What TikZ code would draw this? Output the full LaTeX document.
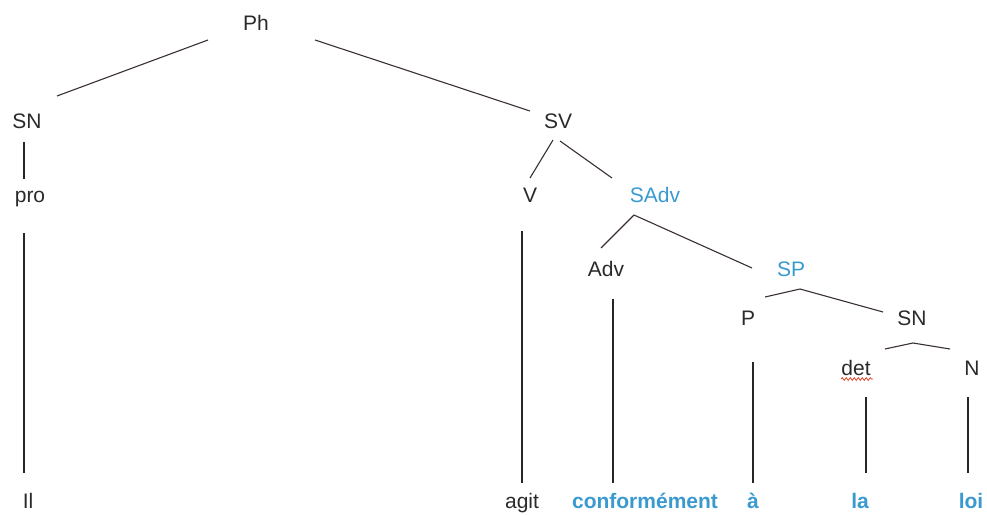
\documentclass[tikz,border=0pt]{standalone}
\usepackage{fontspec}
\setmainfont{Liberation Sans}
\usetikzlibrary{calc,decorations.pathmorphing}
\definecolor{txt}{HTML}{2A2A2A}
\definecolor{blu}{HTML}{3A9AD0}
\definecolor{ln}{HTML}{3A3030}
\begin{document}
\begin{tikzpicture}[x=1pt,y=-1pt,
  lab/.style={anchor=base,inner sep=0pt,text=txt,font=\fontsize{21}{25}\selectfont},
  blab/.style={lab,text=blu},
  word/.style={lab,text=blu,font=\fontsize{21}{25}\selectfont\bfseries},
  edge/.style={draw=ln,line width=1.1pt},
  vedge/.style={draw=black!85,line width=1.5pt}]
\useasboundingbox (0,0) rectangle (987,514);
% nodes
\node[lab]  (Ph)   at (256,30)  {Ph};
\node[lab]  (SN)   at (27,128)  {SN};
\node[lab]  (SV)   at (558,128) {SV};
\node[lab]  (pro)  at (30,202)  {pro};
\node[lab]  (V)    at (530,202) {V};
\node[blab] (SAdv) at (655,202) {SAdv};
\node[lab]  (Adv)  at (606,276) {Adv};
\node[blab] (SP)   at (791,276) {SP};
\node[lab]  (P)    at (748,325) {P};
\node[lab]  (SNb)  at (912,325) {SN};
\node[lab]  (det)  at (856,375) {det};
\node[lab]  (N)    at (972,375) {N};
\node[lab]  (Il)   at (28,508)  {Il};
\node[lab]  (agit) at (522,508) {agit};
\node[word] (conf) at (645,508) {conformément};
\node[word] (a)    at (753,508) {à};
\node[word] (la)   at (860,508) {la};
\node[word] (loi)  at (971,508) {loi};
% spell-check underline
\draw[draw=red!55!brown,line width=0.7pt,decorate,decoration={snake,amplitude=1.4pt,segment length=4pt}]
  ($(det.base)+(-15,4)$) -- ($(det.base)+(17,4)$);
% connectors
\draw[edge] ($(Ph.base)+(-48,10)$) -- ($(SN.base)+(30,-32)$);
\draw[edge] ($(Ph.base)+(59,10)$) -- ($(SV.base)+(-28,-17)$);
\draw[vedge] ($(SN.base)+(-3,14)$) -- ($(pro.base)+(-6,-23)$);
\draw[vedge] ($(pro.base)+(-6,31)$) -- ($(Il.base)+(-4,-35)$);
\draw[edge] ($(SV.base)+(-5,12)$) -- ($(V.base)+(0,-24)$);
\draw[edge] ($(SV.base)+(2,13)$) -- ($(SAdv.base)+(-43,-24)$);
\draw[edge] ($(SAdv.base)+(-21,13)$) -- ($(Adv.base)+(-5,-28)$);
\draw[edge] ($(SAdv.base)+(-21,13)$) -- ($(SP.base)+(-39,-8)$);
\draw[edge] ($(SP.base)+(9,13)$) -- ($(P.base)+(17,-28)$);
\draw[edge] ($(SP.base)+(9,13)$) -- ($(SNb.base)+(-29,-13)$);
\draw[edge] ($(SNb.base)+(1,18)$) -- ($(det.base)+(29,-26)$);
\draw[edge] ($(SNb.base)+(1,18)$) -- ($(N.base)+(-22,-26)$);
\draw[vedge] ($(V.base)+(-8,29)$) -- ($(agit.base)+(0,-25)$);
\draw[vedge] ($(Adv.base)+(7,23)$) -- ($(conf.base)+(-32,-25)$);
\draw[vedge] ($(P.base)+(5,37)$) -- ($(a.base)+(0,-25)$);
\draw[vedge] ($(det.base)+(10,22)$) -- ($(la.base)+(6,-35)$);
\draw[vedge] ($(N.base)+(-4,22)$) -- ($(loi.base)+(-3,-35)$);
\end{tikzpicture}
\end{document}
